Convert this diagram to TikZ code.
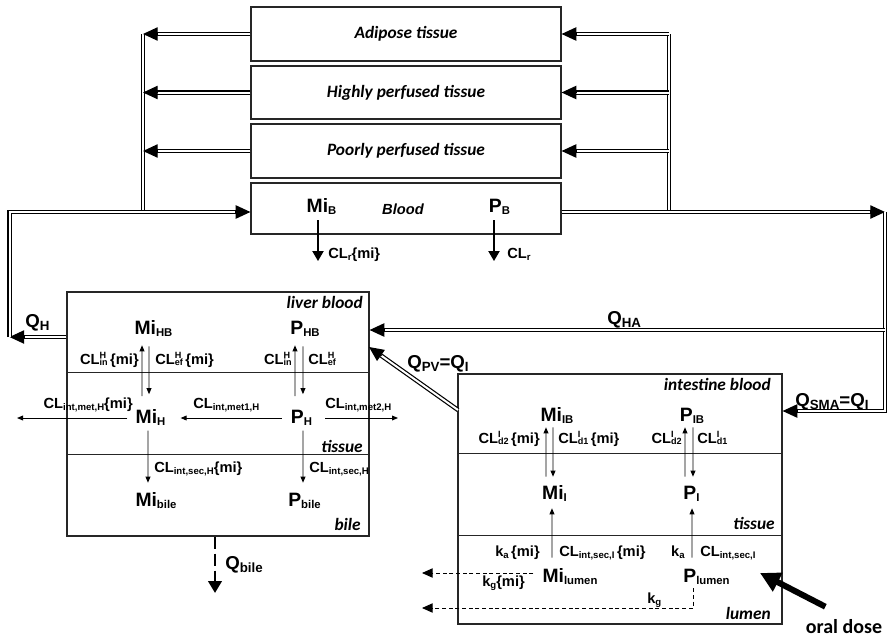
\documentclass[tikz,border=0pt]{standalone}
\usepackage{fontspec}
\setmainfont{Liberation Sans}
\newfontfamily\regfont{Carlito}
\usetikzlibrary{arrows.meta,calc}
\newcommand\lo[1]{\raisebox{-2.2pt}{\fontsize{8.5}{9}\selectfont #1}}
\newcommand\llo[1]{\raisebox{-2pt}{\fontsize{7.2}{8}\selectfont #1}}
\newcommand\qlo[1]{\raisebox{-2.5pt}{\fontsize{10}{11}\selectfont #1}}
\newcommand\hilo[2]{\rlap{\raisebox{4pt}{\fontsize{6.8}{7}\selectfont #1}}\raisebox{-0.9pt}{\fontsize{6.8}{7}\selectfont #2}}

\begin{document}
\begin{tikzpicture}[x=0.75pt, y=-0.75pt,
  compartment/.style={draw=black!85, line width=0.9pt, inner sep=0pt},
  tissuebox/.style={compartment, minimum width=232.5pt, font=\regfont\fontsize{13}{15}\selectfont\bfseries\itshape},
  divider/.style={draw=black!85, line width=0.9pt},
  region/.style={anchor=base east, inner sep=0pt, font=\regfont\fontsize{13}{15}\selectfont\bfseries\itshape},
  sym/.style={anchor=base, inner sep=0pt, text height=10.5pt, text depth=3pt, font=\fontsize{14.5}{16}\selectfont\bfseries},
  lab/.style={anchor=base west, inner sep=0pt, font=\fontsize{11}{13}\selectfont\bfseries},
  qlab/.style={anchor=base west, inner sep=0pt, font=\fontsize{14}{16}\selectfont\bfseries},
  flow/.style={double, double distance=1.5pt, line width=0.9pt},
  flowtip/.style={-{Triangle[length=11pt,width=10pt]}, line width=0.9pt},
  flux/.style={-{Triangle[length=4.5pt,width=3.6pt]}, line width=0.7pt},
  renal/.style={-{Triangle[length=7.5pt,width=8.5pt]}, line width=0.9pt},
  loss/.style={-{Triangle[length=8pt,width=7pt]}, line width=0.7pt, dash pattern=on 3pt off 2pt},
  bileflow/.style={-{Triangle[length=9pt,width=10pt]}, line width=2.2pt, dash pattern=on 9pt off 3.75pt},
  dosearrow/.style={-{Triangle[length=15pt,width=15pt]}, line width=4.5pt},
]
\useasboundingbox (0,0) rectangle (889,639);

\node[tissuebox, minimum height=40.5pt] (adipose) at (406,34) {Adipose tissue};
\node[tissuebox, minimum height=39.75pt] (highly) at (406,92.5) {Highly perfused tissue};
\node[tissuebox, minimum height=40.5pt] (poorly) at (406,151) {Poorly perfused tissue};
\node[tissuebox, minimum height=38.25pt] (blood) at (406,208.5) {};
\node[anchor=base, inner sep=0pt, font=\fontsize{11}{13}\selectfont\bfseries\itshape] (bloodname) at (403,214) {Blood};

\node[compartment, minimum width=226.5pt, minimum height=183pt] (liver) at (218,414) {};
\draw[divider] ([yshift=-60.75pt]liver.north west) -- ([yshift=-60.75pt]liver.north east);
\draw[divider] ([yshift=-122.25pt]liver.north west) -- ([yshift=-122.25pt]liver.north east);
\node[compartment, minimum width=243pt, minimum height=187.5pt] (intestine) at (620,499) {};
\draw[divider] ([yshift=-60pt]intestine.north west) -- ([yshift=-60pt]intestine.north east);
\draw[divider] ([yshift=-121.5pt]intestine.north west) -- ([yshift=-121.5pt]intestine.north east);

\node[region] (liverblood) at (363,308) {liver blood};
\node[region] (livertissue) at (363,452) {tissue};
\node[region] (liverbile) at (361,530) {bile};
\node[region] (intblood) at (771,390) {intestine blood};
\node[region] (inttissue) at (775,529) {tissue};
\node[region] (intlumen) at (771,619) {lumen};

\coordinate (lcolTop) at (143,34);
\coordinate (lcolBot) at (143,212);
\coordinate (rcolTop) at (669,34);
\coordinate (rcolBot) at (669,212);
\coordinate (lcorner) at (9.5,212);
\coordinate (qhcorner) at (9.5,337);
\coordinate (rcorner) at (885,212);
\coordinate (hacorner) at (885,330);
\coordinate (smacorner) at (885,411);
\coordinate (pvStart) at (458,410);
\coordinate (pvEnd) at (369,347);
\coordinate (qhStart) at (liver.west |- qhcorner);
\coordinate (bloodL) at (blood.west |- lcorner);
\coordinate (bloodR) at (blood.east |- rcorner);
\coordinate (haEnd) at (liver.east |- hacorner);
\coordinate (smaEnd) at (intestine.east |- smacorner);

\draw[flow] (lcolTop) -- (lcolBot);
\draw[flow] (rcolTop) -- (rcolBot);
\foreach \t in {adipose,highly,poorly}{
  \coordinate (tl) at (\t.west -| lcolTop);
  \draw[flow, shorten >=6pt] (\t.west) -- (tl);
  \draw[flowtip] ([xshift=11.5pt]tl) -- (tl);
  \coordinate (tr) at (\t.east -| rcolTop);
  \draw[flow, shorten >=6pt] (tr) -- (\t.east);
  \draw[flowtip] ([xshift=11.5pt]\t.east) -- (\t.east);
}
\draw[flow, shorten >=6pt] (qhStart) -- (qhcorner);
\draw[flowtip] ([xshift=11.5pt]qhcorner) -- (qhcorner);
\draw[flow, shorten >=6pt] (qhcorner) -- (lcorner) -- (bloodL);
\draw[flowtip] ([xshift=-11.5pt]bloodL) -- (bloodL);
\draw[flow, shorten >=6pt] (bloodR) -- (rcorner);
\draw[flowtip] ([xshift=-11.5pt]rcorner) -- (rcorner);
\draw[flow, shorten >=6pt] (rcorner) -- (smacorner) -- (smaEnd);
\draw[flowtip] ([xshift=11.5pt]smaEnd) -- (smaEnd);
\draw[flow, shorten >=6pt] (hacorner) -- (haEnd);
\draw[flowtip] ([xshift=11.5pt]haEnd) -- (haEnd);
\draw[flow, shorten >=6pt] (pvStart) -- (pvEnd);
\draw[flowtip] ($(pvEnd)!11.5pt!(pvStart)$) -- (pvEnd);

\node[qlab] (qh) at (25,327) {Q\qlo{H}};
\node[qlab] (qha) at (607,324) {Q\qlo{HA}};
\node[qlab] (qpv) at (407,368) {Q\qlo{PV}=Q\qlo{I}};
\node[qlab] (qsma) at (795,406) {Q\qlo{SMA}=Q\qlo{I}};

\node[sym] (miB) at (321.5,212) {Mi\lo{B}};
\node[sym] (pB) at (499.5,212) {P\lo{B}};
\coordinate (miBout) at (318,261);
\coordinate (pBout) at (494,261);
\draw[renal, shorten <=3pt] (miB.south -| miBout) -- (miBout);
\draw[renal, shorten <=3pt] (pB.south -| pBout) -- (pBout);
\node[lab] (clrmi) at (328,258) {CL\llo{r}\{mi\}};
\node[lab] (clrp) at (507,258) {CL\llo{r}};

\node[sym] (miHB) at (153.5,334) {Mi\lo{HB}};
\node[sym] (pHB) at (305,334) {P\lo{HB}};
\node[sym] (miH) at (150.5,423) {Mi\lo{H}};
\node[sym] (pH) at (301.5,423) {P\lo{H}};
\node[sym] (mibile) at (156,506) {Mi\lo{bile}};
\node[sym] (pbile) at (304.5,506) {P\lo{bile}};
\draw[flux, shorten <=9.4pt, shorten >=5.25pt] ([xshift=-6.4pt]miH.north) -- ([xshift=-8.6pt]miHB.south);
\draw[flux, shorten <=6pt, shorten >=10.9pt] ([xshift=-3.4pt]miHB.south) -- ([xshift=-1.1pt]miH.north);
\draw[flux, shorten <=2.6pt, shorten >=6.75pt] ([xshift=-1.9pt]miH.south) -- ([xshift=-6pt]mibile.north);
\draw[flux, shorten <=9.4pt, shorten >=5.25pt] ([xshift=-4.9pt]pH.north) -- ([xshift=-7.5pt]pHB.south);
\draw[flux, shorten <=6pt, shorten >=10.9pt] ([xshift=-1.5pt]pHB.south) -- ([xshift=1.1pt]pH.north);
\draw[flux, shorten <=2.6pt, shorten >=6.75pt] ([xshift=1.1pt]pH.south) -- ([xshift=-1.1pt]pbile.north);
\coordinate (metout) at (17,419);
\coordinate (met2out) at (398,419);
\draw[flux, shorten <=6pt] (miH.west) -- (miH.west -| metout);
\draw[flux, shorten <=6.75pt, shorten >=11.25pt] (pH.west) -- (miH.east);
\draw[flux, shorten <=9.75pt] (pH.east) -- (pH.east -| met2out);
\node[lab, anchor=base east] (clinmi) at (139,364) {CL\hilo{H}{in}\,\{mi\}};
\node[lab] (clefmi) at (155,364) {CL\hilo{H}{ef}\,\{mi\}};
\node[lab, anchor=base east] (clinp) at (292,364) {CL\hilo{H}{in}};
\node[lab] (clefp) at (308,364) {CL\hilo{H}{ef}};
\node[lab, anchor=base east] (clmetmi) at (133,408) {CL\llo{int,met,H}\{mi\}};
\node[lab] (clmet1) at (193,408) {CL\llo{int,met1,H}};
\node[lab] (clmet2) at (325,408) {CL\llo{int,met2,H}};
\node[lab] (clsecmi) at (154,472) {CL\llo{int,sec,H}\{mi\}};
\node[lab] (clsecp) at (309,472) {CL\llo{int,sec,H}};

\coordinate (bileout) at (215,593);
\draw[bileflow] (liver.south -| bileout) -- (bileout);
\node[qlab] (qbile) at (225,569) {Q\qlo{bile}};

\node[sym] (miIB) at (557,421) {Mi\lo{IB}};
\node[sym] (pIB) at (692,421) {P\lo{IB}};
\node[sym] (miI) at (554.5,499) {Mi\lo{I}};
\node[sym] (pI) at (691.5,499) {P\lo{I}};
\node[sym] (milumen) at (570,582) {Mi\lo{lumen}};
\node[sym] (plumen) at (706.5,582) {P\lo{lumen}};
\draw[flux, shorten <=6pt, shorten >=1.5pt] ([xshift=-6.4pt]miI.north) -- ([xshift=-8.25pt]miIB.south);
\draw[flux, shorten <=1.5pt, shorten >=6pt] ([xshift=-3pt]miIB.south) -- ([xshift=-1.1pt]miI.north);
\draw[flux, shorten <=6pt, shorten >=1.5pt] ([xshift=-4.9pt]pI.north) -- ([xshift=-5.25pt]pIB.south);
\draw[flux, shorten <=1.5pt, shorten >=6pt] ([xshift=0.75pt]pIB.south) -- ([xshift=1.1pt]pI.north);
\draw[flux, shorten <=7.5pt, shorten >=3.75pt] ([xshift=-13.5pt]milumen.north) -- ([xshift=-1.9pt]miI.south);
\draw[flux, shorten <=7.5pt, shorten >=3.75pt] ([xshift=-10.9pt]plumen.north) -- ([xshift=0.4pt]pI.south);
\coordinate (kgmiout) at (422,573);
\coordinate (kgout) at (422,608);
\draw[loss, shorten <=6.75pt] ([yshift=3pt]milumen.west) -- (kgmiout);
\draw[loss, shorten <=1.5pt] ([xshift=-10.1pt]plumen.south) |- (kgout);
\node[lab, anchor=base east] (cld2mi) at (540,443) {CL\hilo{I}{d2}\,\{mi\}};
\node[lab] (cld1mi) at (558,443) {CL\hilo{I}{d1}\,\{mi\}};
\node[lab, anchor=base east] (cld2p) at (682,443) {CL\hilo{I}{d2}};
\node[lab] (cld1p) at (697,443) {CL\hilo{I}{d1}};
\node[lab, anchor=base east] (kami) at (540,556) {k\llo{a}\,\{mi\}};
\node[lab] (clsecImi) at (559,556) {CL\llo{int,sec,I}\,\{mi\}};
\node[lab, anchor=base east] (kap) at (685,556) {k\llo{a}};
\node[lab] (clsecIp) at (700,556) {CL\llo{int,sec,I}};
\node[lab] (kgmi) at (482,586) {k\llo{g}\{mi\}};
\node[lab] (kgp) at (647,603) {k\llo{g}};

\node[anchor=base, inner sep=0pt, font=\regfont\fontsize{15}{17}\selectfont\bfseries] (dose) at (844,633) {oral dose};
\coordinate (doseTip) at (760,573);
\draw[dosearrow] ([xshift=-14pt,yshift=9pt]dose.north) -- (doseTip);
\end{tikzpicture}
\end{document}
